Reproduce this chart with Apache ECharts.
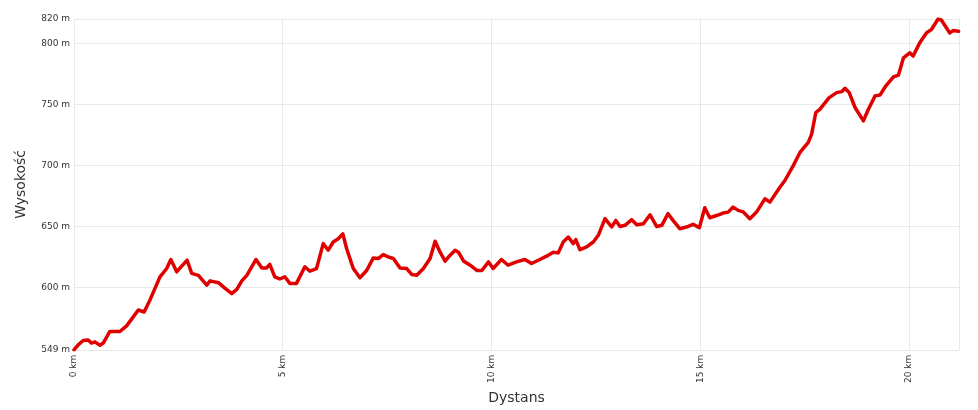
<!DOCTYPE html>
<html>
<head>
<meta charset="utf-8">
<script src="https://cdn.jsdelivr.net/npm/echarts@6/dist/echarts.min.js"></script>
<style>
html,body{margin:0;padding:0;background:#fff;}
#c{width:978px;height:410px;}
</style>
</head>
<body>
<div id="c"></div>
<script>
const distanceKm = [0,0.1,0.22,0.34,0.42,0.5,0.62,0.7,0.86,1.1,1.26,1.42,1.54,1.68,1.82,1.94,2.06,2.22,2.32,2.46,2.58,2.71,2.82,2.98,3.18,3.26,3.46,3.62,3.78,3.9,4.02,4.14,4.36,4.5,4.61,4.69,4.81,4.93,5.05,5.17,5.33,5.53,5.65,5.81,5.97,6.09,6.21,6.33,6.44,6.53,6.69,6.85,7.01,7.17,7.29,7.41,7.53,7.65,7.81,7.97,8.09,8.21,8.37,8.53,8.65,8.77,8.89,9.01,9.13,9.21,9.33,9.49,9.65,9.77,9.93,10.04,10.24,10.4,10.6,10.8,10.96,11.16,11.32,11.48,11.6,11.72,11.84,11.96,12.02,12.12,12.28,12.44,12.56,12.72,12.88,12.98,13.08,13.2,13.36,13.48,13.64,13.8,13.96,14.08,14.23,14.35,14.51,14.67,14.83,14.98,15.11,15.23,15.39,15.55,15.67,15.79,15.91,16.03,16.19,16.35,16.55,16.67,16.91,17.03,17.23,17.39,17.59,17.67,17.77,17.87,18.09,18.27,18.39,18.47,18.57,18.71,18.91,19.03,19.19,19.31,19.43,19.63,19.75,19.87,20.02,20.1,20.26,20.42,20.54,20.7,20.78,20.98,21.06,21.19];
const elevationM = [549,553,556.6,557,554.5,555.5,552.8,554.5,564,564,568.6,576,581.6,580,589.8,599.3,608.8,615.6,623,612.9,617.5,622.4,611.6,610,602,605.5,604,599.3,595,598.5,605.5,610,623,616,616,619,608.8,607,608.8,603.4,603.4,617,613.4,615.6,636,630.6,637.3,640,644,632,615.6,608,614,624.3,623.8,627,625,623.8,616,615.6,610.7,610,615.6,623.8,638,629,621.6,626.5,630.6,629,621.8,618.3,614,614,621,615.6,623,618.3,621,623,619.7,623,625.7,629,628.4,637.3,641.4,636,639.3,631,633.3,637.3,642.8,656.4,649.6,655,650,651,655.6,651.5,652.3,659.6,650,651,660.5,655,648.2,649.6,651.8,649,665.4,657.2,659,661,661.8,665.9,663.2,662,656.4,661.8,672.7,670,682.2,687.7,699.9,710.7,718.9,725.7,743.4,746.1,755.6,759.7,760.5,763.2,759.7,747.5,736.6,746.1,757,757.8,764.3,772.5,774.1,788.2,792.3,789.6,800.5,808.6,811.4,820,819,808.6,810.5,810];
const yTicks = [549,600,650,700,750,800,820];
const xTicks = [0,5,10,15,20];

const chart = echarts.init(document.getElementById('c'), null, {renderer:'canvas'});
const gridColor = '#e8e8e8';
chart.setOption({
  animation:false,
  grid:{left:74,right:19,top:19,bottom:60,containLabel:false},
  xAxis:{
    type:'value',min:0,max:21.2,
    name:'Dystans',nameLocation:'middle',nameGap:39,
    nameTextStyle:{fontSize:14,color:'#333',fontFamily:'DejaVu Sans'},
    axisLine:{show:true,lineStyle:{color:gridColor}},
    axisTick:{show:false,customValues:xTicks.concat([21.2])},
    splitLine:{show:true,lineStyle:{color:gridColor},customValues:xTicks.concat([21.2])},
    axisLabel:{customValues:xTicks,rotate:90,fontSize:9,color:'#333',fontFamily:'DejaVu Sans',margin:5,
      formatter:v=>v+' km'}
  },
  yAxis:{
    type:'value',min:549,max:820,
    name:'Wysokość',nameLocation:'middle',nameGap:46,nameRotate:90,
    nameTextStyle:{fontSize:14,color:'#333',fontFamily:'DejaVu Sans'},
    axisLine:{show:true,lineStyle:{color:gridColor}},
    axisTick:{show:false,customValues:yTicks},
    splitLine:{show:true,lineStyle:{color:gridColor},customValues:yTicks},
    axisLabel:{customValues:yTicks,fontSize:9,color:'#333',fontFamily:'DejaVu Sans',margin:4,
      formatter:v=>v+' m'}
  },
  series:[{
    type:'line',
    data:distanceKm.map((d,i)=>[d,elevationM[i]]),
    showSymbol:false,smooth:false,
    lineStyle:{color:'#e00000',width:3.5,join:'round',cap:'round'},
    itemStyle:{color:'#e00000'}
  }]
});
</script>
</body>
</html>
